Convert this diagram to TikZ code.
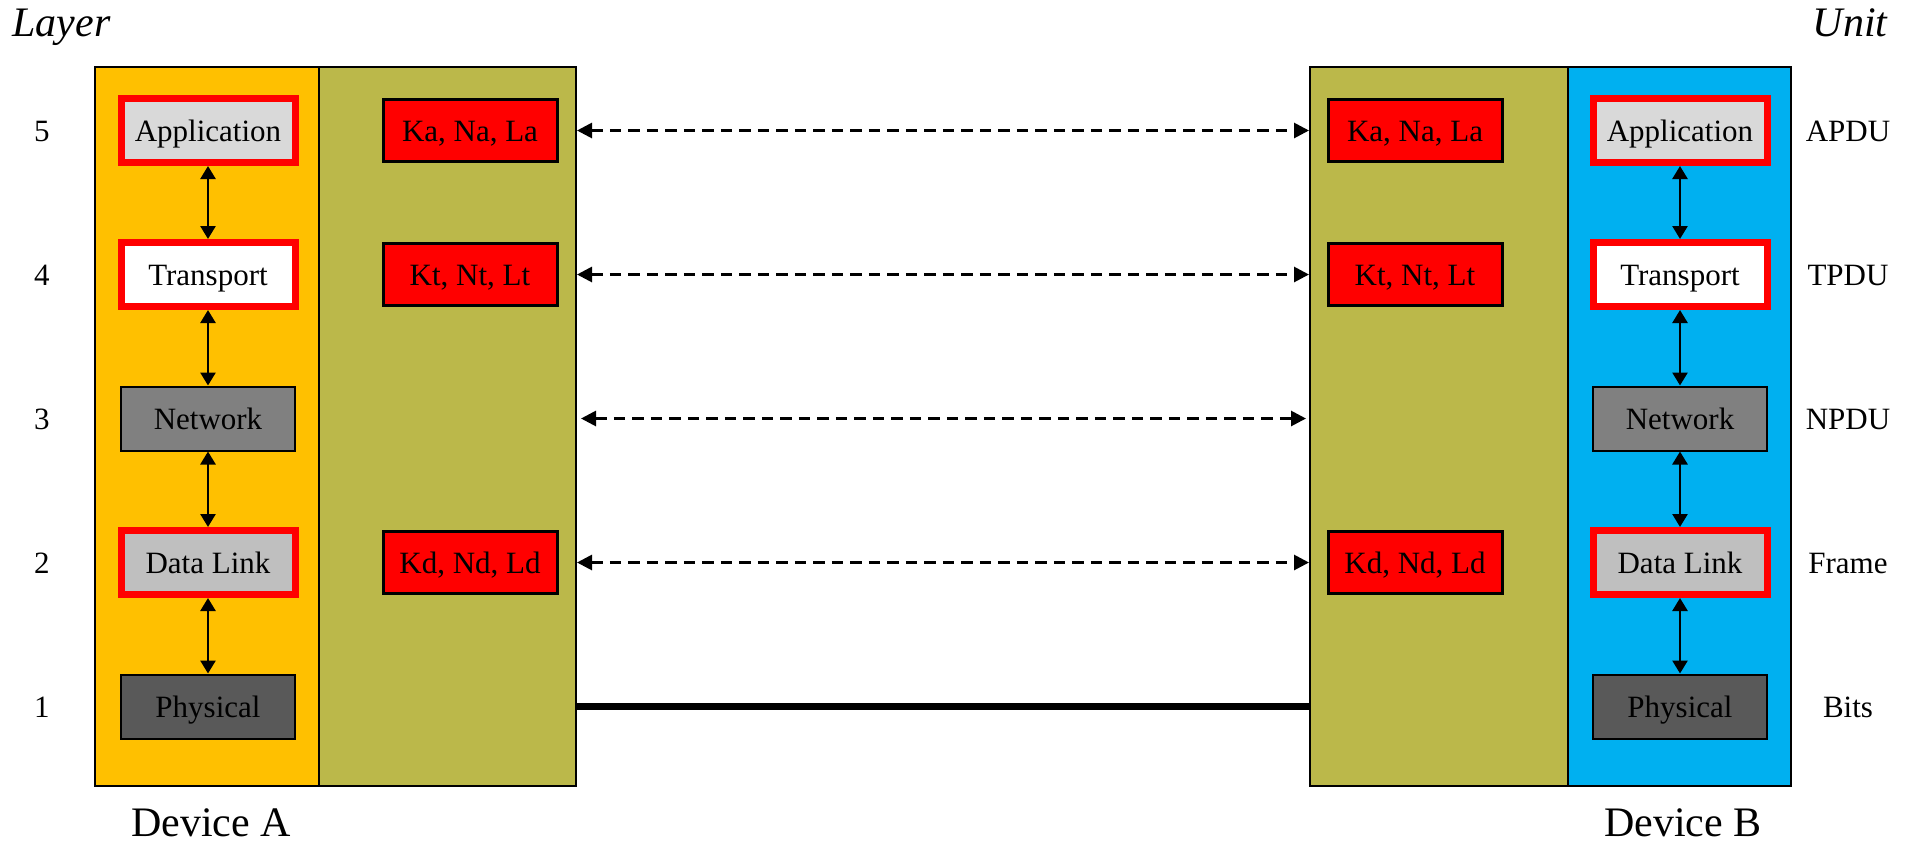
\documentclass[tikz,border=0pt]{standalone}
\usepackage{fontspec}
\setmainfont{Liberation Serif}
\usetikzlibrary{arrows.meta}
\definecolor{cOrange}{HTML}{FFC000}
\definecolor{cOlive}{HTML}{BBB84A}
\definecolor{cBlue}{HTML}{00B0F0}
\definecolor{cApp}{HTML}{D9D9D9}
\definecolor{cLink}{HTML}{BFBFBF}
\definecolor{cNet}{HTML}{808080}
\definecolor{cPhy}{HTML}{595959}
\tikzset{
  txt/.style={font=\fontsize{15.5}{18}\selectfont, text height=11pt, text depth=0pt},
  big/.style={font=\fontsize{21}{24}\selectfont},
  layerbox/.style={txt, minimum width=87pt, minimum height=32pt, inner sep=0pt},
  redbox/.style={layerbox, draw=red, line width=3.5pt},
  plainbox/.style={layerbox, draw=black, line width=1pt},
  keybox/.style={txt, draw=black, fill=red, line width=1.5pt, minimum width=87pt, minimum height=31pt, inner sep=0pt},
  devbox/.style={draw=black, line width=1pt, minimum width=240.5pt, minimum height=359.5pt, inner sep=0pt},
  vert/.style={line width=1.3pt, {Triangle[length=6.5pt,width=7.5pt]}-{Triangle[length=6.5pt,width=7.5pt]}},
  dasharrow/.style={line width=1.4pt, dash pattern=on 5.75pt off 3.5pt, {Triangle[length=7.5pt,width=7.5pt]}-{Triangle[length=7.5pt,width=7.5pt]}},
}
\begin{document}
\begin{tikzpicture}[x=0.5pt,y=-0.5pt]
\path[fill=white,use as bounding box] (0,0) rectangle (1912,842);
% device backgrounds
\fill[cOrange] (95,67) rectangle (319,786);
\fill[cOlive] (319,67) rectangle (576,786);
\fill[cOlive] (1311,67) rectangle (1568,786);
\fill[cBlue] (1568,67) rectangle (1790,786);
\node[devbox] (devA) at (335.5,426.5) {};
\node[devbox] (devB) at (1550.5,426.5) {};
\draw[line width=1pt] (319,67) -- (319,786);
\draw[line width=1pt] (1568,67) -- (1568,786);
% left stack
\node[redbox, fill=cApp] (a5) at (208,130.5) {Application};
\node[redbox, fill=white] (a4) at (208,274.5) {Transport};
\node[plainbox, fill=cNet] (a3) at (208,418.5) {Network};
\node[redbox, fill=cLink] (a2) at (208,562.5) {Data Link};
\node[plainbox, fill=cPhy] (a1) at (208,706.5) {Physical};
% right stack
\node[redbox, fill=cApp] (b5) at (1680,130.5) {Application};
\node[redbox, fill=white] (b4) at (1680,274.5) {Transport};
\node[plainbox, fill=cNet] (b3) at (1680,418.5) {Network};
\node[redbox, fill=cLink] (b2) at (1680,562.5) {Data Link};
\node[plainbox, fill=cPhy] (b1) at (1680,706.5) {Physical};
% key boxes
\node[keybox] (ka5) at (470,130.5) {Ka, Na, La};
\node[keybox] (ka4) at (470,274.5) {Kt, Nt, Lt};
\node[keybox] (ka2) at (470,562.5) {Kd, Nd, Ld};
\node[keybox] (kb5) at (1415,130.5) {Ka, Na, La};
\node[keybox] (kb4) at (1415,274.5) {Kt, Nt, Lt};
\node[keybox] (kb2) at (1415,562.5) {Kd, Nd, Ld};
% vertical arrows
\draw[vert] (a5.south) -- (a4.north);
\draw[vert] (a4.south) -- (a3.north);
\draw[vert] (a3.south) -- (a2.north);
\draw[vert] (a2.south) -- (a1.north);
\draw[vert] (b5.south) -- (b4.north);
\draw[vert] (b4.south) -- (b3.north);
\draw[vert] (b3.south) -- (b2.north);
\draw[vert] (b2.south) -- (b1.north);
% peer arrows
\draw[dasharrow] (devA.east |- ka5) -- (devB.west |- kb5);
\draw[dasharrow] (devA.east |- ka4) -- (devB.west |- kb4);
\draw[dasharrow] ([xshift=2pt]devA.east |- a3) -- ([xshift=-1.5pt]devB.west |- b3);
\draw[dasharrow] (devA.east |- ka2) -- (devB.west |- kb2);
\draw[line width=3.5pt] (devA.east |- a1) -- (devB.west |- b1);
% labels
\node[big, font=\fontsize{21}{24}\itshape\selectfont, anchor=base west, inner sep=0pt] (layerlbl) at (12,36) {Layer};
\node[big, font=\fontsize{21}{24}\itshape\selectfont, anchor=base east, inner sep=0pt] (unitlbl) at (1888,36) {Unit};
\node[txt] (n5) at (42,130.5) {5};
\node[txt] (n4) at (42,274.5) {4};
\node[txt] (n3) at (42,418.5) {3};
\node[txt] (n2) at (42,562.5) {2};
\node[txt] (n1) at (42,706.5) {1};
\node[txt] (u5) at (1848,130.5) {APDU};
\node[txt] (u4) at (1848,274.5) {TPDU};
\node[txt] (u3) at (1848,418.5) {NPDU};
\node[txt] (u2) at (1848,562.5) {Frame};
\node[txt] (u1) at (1848,706.5) {Bits};
\node[big, anchor=base, inner sep=0pt, text depth=0pt] (devAlbl) at (211,836) {Device A};
\node[big, anchor=base, inner sep=0pt, text depth=0pt] (devBlbl) at (1683,836) {Device B};
\end{tikzpicture}
\end{document}
